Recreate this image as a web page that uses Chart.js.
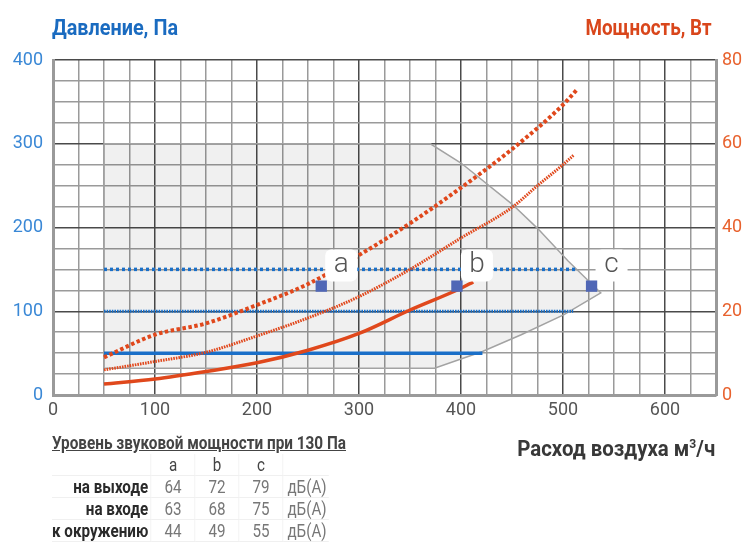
<!DOCTYPE html>
<html>
<head>
<meta charset="utf-8">
<script src="https://cdn.jsdelivr.net/npm/chart.js@4.4.1/dist/chart.umd.min.js"></script>
<style>
  body { margin: 0; background: #fff; }
  #wrap { position: relative; width: 749px; height: 548px; font-family: Roboto, 'Liberation Sans', sans-serif; }
  canvas { position: absolute; left: 0; top: 0; }
  .txt { position: absolute; white-space: nowrap; line-height: 1; }
  .head { top: 17px; font-size: 22px; font-weight: bold; }
  #leftHead { left: 52px; color: #1a6bc0; transform-origin: left center; }
  #rightHead { right: 37px; color: #d9461b; transform-origin: right center; }
  #xTitle { right: 34px; top: 437px; font-size: 22px; font-weight: bold; color: #383838; transform-origin: right center; }
  #xTitle sup { font-size: 13px; }
  #caption { left: 52px; top: 434px; font-size: 18px; font-weight: bold; color: #444; text-decoration: underline; transform-origin: left center; }
  /* widths are in unscaled units, the whole table is squeezed by 0.8 */
  #soundTable { position: absolute; left: 52px; top: 454px; border-collapse: collapse; font-size: 19px; line-height: 1;
    table-layout: fixed; transform: scaleX(0.8); transform-origin: left top; }
  #soundTable td { height: 21px; padding: 0; border-bottom: 1px solid #f0f0f0; white-space: nowrap; }
  #soundTable td.lbl { text-align: right; font-weight: bold; width: 120px; padding-right: 3px; color: #2a2a2a; }
  #soundTable td.v { text-align: center; width: 54px; color: #777; border-left: 1px solid #f0f0f0; }
  #soundTable td.h { color: #444; }
  #soundTable td.u { padding-left: 5px; width: 52px; color: #777; border-left: 1px solid #f0f0f0; }
</style>
</head>
<body>
<div id="wrap">
  <canvas id="fanChart" width="749" height="548"></canvas>
  <div class="txt head" id="leftHead">Давление, Па</div>
  <div class="txt head" id="rightHead">Мощность, Вт</div>
  <div class="txt" id="xTitle">Расход воздуха м<sup>3</sup>/ч</div>
  <div class="txt" id="caption">Уровень звуковой мощности при 130 Па</div>
  <table id="soundTable"></table>
</div>
<script>
// working zone outline (flow m3/h, pressure Pa)
const zoneFlow = [50, 50, 370, 400, 450, 475, 505, 537, 501, 459, 421, 374, 50];
const zonePressure = [32, 300, 300, 277, 228, 199, 160, 122, 96, 72, 52, 32, 32];

// pressure levels (blue)
const level150Flow = [50, 514];
const level100Flow = [50, 510];
const level50Flow = [50, 421];

// power curves (red, right axis W)
const solidFlow = [50, 100, 150, 200, 250, 300, 350, 400, 412];
const solidPower = [2.6, 3.8, 5.6, 7.7, 10.7, 14.7, 20.3, 25.5, 27];
const fineFlow = [50, 100, 150, 200, 250, 300, 350, 400, 450, 475, 500, 511];
const finePower = [6.0, 8.0, 10.2, 14.1, 18.4, 23.5, 30, 37.5, 44.8, 50, 55, 57.4];
const thickFlow = [50, 100, 150, 200, 250, 300, 350, 400, 450, 500, 514];
const thickPower = [9.0, 14.4, 17.1, 21.5, 26.5, 33.4, 41, 49.5, 58.7, 69.3, 73];

// operating points
const pointNames = ['a', 'b', 'c'];
const pointFlow = [263, 396, 528];
const pointPressure = [130, 130, 130];
const labelPressure = 150;

// sound table
const soundRows = ['на выходе', 'на входе', 'к окружению'];
const soundA = [64, 63, 44];
const soundB = [72, 68, 49];
const soundC = [79, 75, 55];

const xy = (xs, ys) => xs.map((v, i) => ({x: v, y: ys[i]}));
const flat = (xs, val) => xs.map(v => ({x: v, y: val}));

const RED = '#e0481c';
const BLUE = '#1a6fc8';
const FONT = "Roboto, 'Liberation Sans', sans-serif";

const labelBoxes = {
  id: 'labelBoxes',
  afterDatasetsDraw(chart) {
    const {ctx, scales: {x, y}} = chart;
    ctx.save();
    pointNames.forEach((name, i) => {
      const cx = x.getPixelForValue(pointFlow[i]) + 20;
      const cy = y.getPixelForValue(labelPressure) - 4;
      ctx.fillStyle = '#fff';
      ctx.beginPath();
      ctx.roundRect(cx - 16, cy - 16, 32, 32, 6);
      ctx.fill();
      ctx.fillStyle = '#555';
      ctx.font = '300 28px ' + FONT;
      ctx.textAlign = 'center';
      ctx.textBaseline = 'middle';
      ctx.fillText(name, cx, cy);
    });
    ctx.restore();
  }
};

const gridColor = ctx => (ctx.tick && ctx.tick.value % 100 === 0) ? '#4a4a4a' : '#9a9a9a';

new Chart(document.getElementById('fanChart'), {
  type: 'line',
  data: {
    datasets: [
      {
        data: xy(pointFlow, pointPressure),
        showLine: false,
        pointStyle: 'rect',
        pointRadius: 8,
        pointBackgroundColor: '#5067b6',
        pointBorderWidth: 0,
        yAxisID: 'y'
      },
      {
        data: xy(thickFlow, thickPower),
        borderColor: RED, borderWidth: 4, borderDash: [3.5, 2.5],
        cubicInterpolationMode: 'monotone', pointRadius: 0, yAxisID: 'y1'
      },
      {
        data: xy(fineFlow, finePower),
        borderColor: RED, borderWidth: 3, borderDash: [1.6, 1],
        cubicInterpolationMode: 'monotone', pointRadius: 0, yAxisID: 'y1'
      },
      {
        data: xy(solidFlow, solidPower),
        borderColor: RED, borderWidth: 3.5,
        cubicInterpolationMode: 'monotone', pointRadius: 0, yAxisID: 'y1'
      },
      {
        data: flat(level150Flow, 150),
        borderColor: BLUE, borderWidth: 3.5, borderDash: [3, 3],
        pointRadius: 0, yAxisID: 'y'
      },
      {
        data: flat(level100Flow, 100),
        borderColor: BLUE, borderWidth: 3, borderDash: [1.6, 1],
        pointRadius: 0, yAxisID: 'y'
      },
      {
        data: flat(level50Flow, 50),
        borderColor: BLUE, borderWidth: 3.5,
        pointRadius: 0, yAxisID: 'y'
      },
      {
        data: xy(zoneFlow, zonePressure),
        borderColor: '#a3a3a3', borderWidth: 1.5,
        backgroundColor: 'rgba(0,0,0,0.06)',
        fill: 'shape', pointRadius: 0, yAxisID: 'y'
      }
    ]
  },
  options: {
    responsive: false,
    animation: false,
    devicePixelRatio: 1,
    layout: { padding: { top: 60, left: 0, right: 0, bottom: 0 } },
    plugins: { legend: { display: false }, tooltip: { enabled: false } },
    scales: {
      x: {
        type: 'linear', min: 0, max: 650,
        afterFit(scale) { scale.height = 153; },
        ticks: {
          stepSize: 25, autoSkip: false, padding: 5, maxRotation: 0, minRotation: 0,
          color: '#555', font: { family: FONT, size: 18 },
          callback: v => v % 100 === 0 ? v : ''
        },
        grid: { color: gridColor, lineWidth: 1.5, drawTicks: false },
        border: { color: '#9a9a9a', width: 3 }
      },
      y: {
        position: 'left', min: 0, max: 400,
        afterFit(scale) { scale.width = 53; },
        ticks: {
          stepSize: 25, autoSkip: false, padding: 10,
          color: '#3a88d6', font: { family: FONT, size: 18 },
          callback: v => v % 100 === 0 ? v : ''
        },
        grid: { color: gridColor, lineWidth: 1.5, drawTicks: false },
        border: { color: '#9a9a9a', width: 3 }
      },
      y1: {
        position: 'right', min: 0, max: 80,
        afterFit(scale) { scale.width = 33; },
        ticks: {
          stepSize: 5, autoSkip: false, padding: 6,
          color: '#e8622e', font: { family: FONT, size: 18 },
          callback: v => v % 20 === 0 ? v : ''
        },
        grid: { display: false, drawTicks: false },
        border: { color: '#9a9a9a', width: 3 }
      }
    }
  },
  plugins: [labelBoxes]
});

// sound power table
const table = document.getElementById('soundTable');
let html = '<tr><td class="lbl"></td><td class="v h">a</td><td class="v h">b</td>' +
  '<td class="v h">c</td><td class="u"></td></tr>';
soundRows.forEach((row, i) => {
  html += '<tr><td class="lbl">' + row + '</td><td class="v">' + soundA[i] + '</td><td class="v">' +
    soundB[i] + '</td><td class="v">' + soundC[i] + '</td><td class="u">дБ(А)</td></tr>';
});
table.innerHTML = html;

// squeeze headings to the condensed widths of the original
function fitText(id, width) {
  const el = document.getElementById(id);
  el.style.transform = 'scaleX(' + (width / el.getBoundingClientRect().width) + ')';
}
fitText('leftHead', 126);
fitText('rightHead', 126);
fitText('xTitle', 198);
fitText('caption', 294);
</script>
</body>
</html>
